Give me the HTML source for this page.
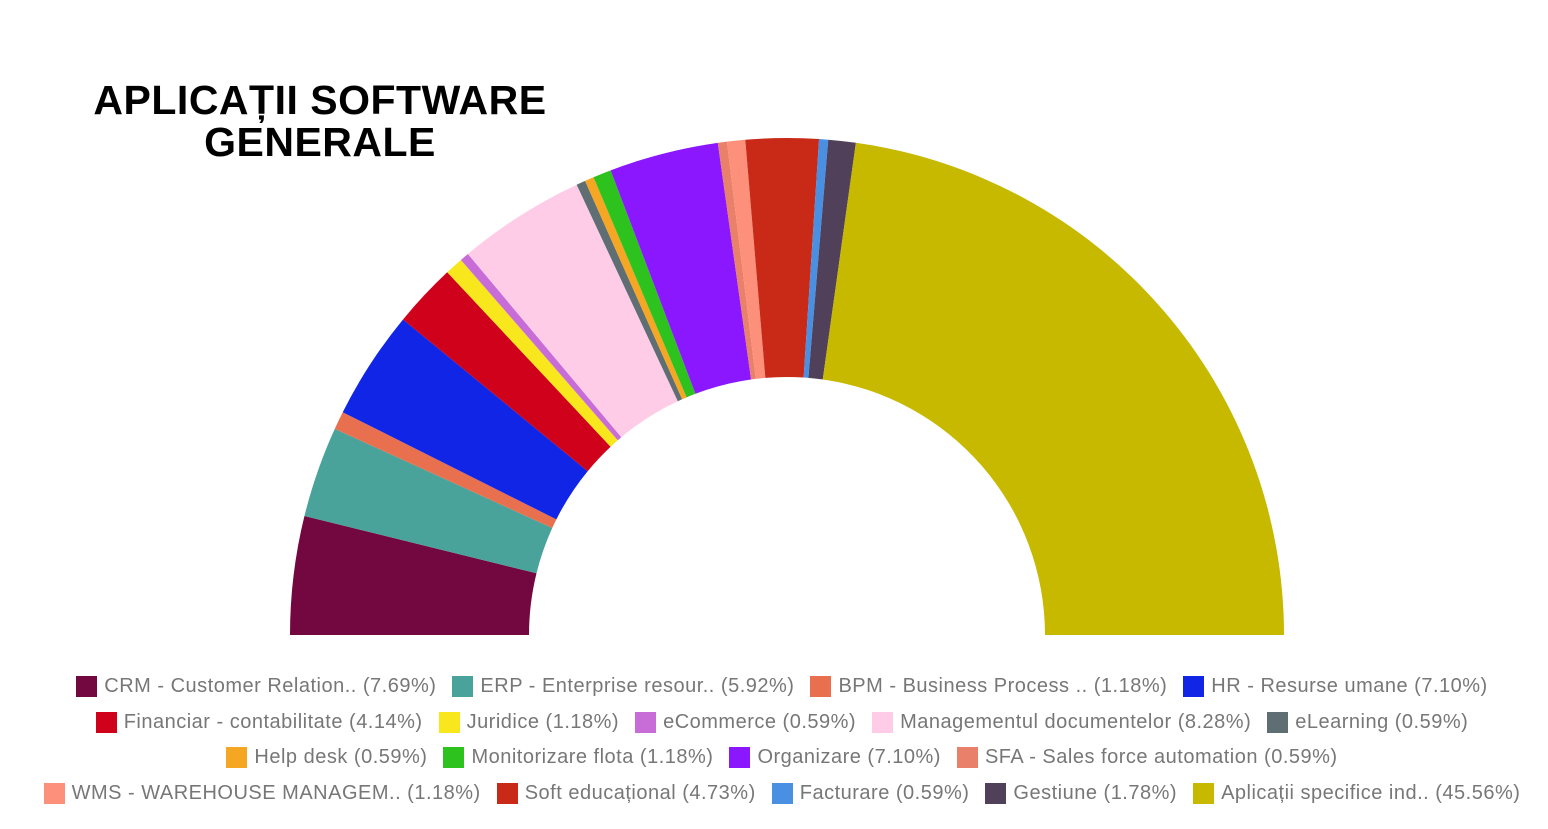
<!DOCTYPE html>
<html><head><meta charset="utf-8"><style>
body{margin:0;width:1548px;height:829px;background:#fff;overflow:hidden;position:relative;font-family:"Liberation Sans",Arial,sans-serif}
#t{position:absolute;left:60px;width:520px;top:79px;text-align:center;font-weight:900;font-size:41px;line-height:42px;color:#000;letter-spacing:0.5px}
.row{position:absolute;left:8px;width:1548px;display:flex;justify-content:center;gap:16px;font-size:20px;letter-spacing:0.5px;color:#777;line-height:22px}
.it{display:flex;align-items:center;white-space:nowrap}
.sw{width:21px;height:21px;margin-right:7px;display:inline-block}
svg{position:absolute;left:0;top:0}
</style></head><body>
<svg width="1548" height="829" id="s"></svg>
<div id="t">APLICAȚII SOFTWARE<br>GENERALE</div>
<div class="row" style="top:675px">
<span class="it"><i class="sw" style="background:#73073f"></i>CRM - Customer Relation.. (7.69%)</span>
<span class="it"><i class="sw" style="background:#4aa39a"></i>ERP - Enterprise resour.. (5.92%)</span>
<span class="it"><i class="sw" style="background:#e8704f"></i>BPM - Business Process .. (1.18%)</span>
<span class="it"><i class="sw" style="background:#1025e6"></i>HR - Resurse umane (7.10%)</span>
</div>
<div class="row" style="top:711px">
<span class="it"><i class="sw" style="background:#d0021b"></i>Financiar - contabilitate (4.14%)</span>
<span class="it"><i class="sw" style="background:#f8e71c"></i>Juridice (1.18%)</span>
<span class="it"><i class="sw" style="background:#c86dd7"></i>eCommerce (0.59%)</span>
<span class="it"><i class="sw" style="background:#ffcce8"></i>Managementul documentelor (8.28%)</span>
<span class="it"><i class="sw" style="background:#5f6e73"></i>eLearning (0.59%)</span>
</div>
<div class="row" style="top:746px">
<span class="it"><i class="sw" style="background:#f5a623"></i>Help desk (0.59%)</span>
<span class="it"><i class="sw" style="background:#2ec21e"></i>Monitorizare flota (1.18%)</span>
<span class="it"><i class="sw" style="background:#8b17ff"></i>Organizare (7.10%)</span>
<span class="it"><i class="sw" style="background:#e9806a"></i>SFA - Sales force automation (0.59%)</span>
</div>
<div class="row" style="top:782px">
<span class="it"><i class="sw" style="background:#fc907a"></i>WMS - WAREHOUSE MANAGEM.. (1.18%)</span>
<span class="it"><i class="sw" style="background:#c92a18"></i>Soft educațional (4.73%)</span>
<span class="it"><i class="sw" style="background:#4a90e2"></i>Facturare (0.59%)</span>
<span class="it"><i class="sw" style="background:#50405a"></i>Gestiune (1.78%)</span>
<span class="it"><i class="sw" style="background:#c7b800"></i>Aplicații specifice ind.. (45.56%)</span>
</div>
<script>
var d=[[7.69,"#73073f"],[5.92,"#4aa39a"],[1.18,"#e8704f"],[7.10,"#1025e6"],[4.14,"#d0021b"],[1.18,"#f8e71c"],[0.59,"#c86dd7"],[8.28,"#ffcce8"],[0.59,"#5f6e73"],[0.59,"#f5a623"],[1.18,"#2ec21e"],[7.10,"#8b17ff"],[0.59,"#e9806a"],[1.18,"#fc907a"],[4.73,"#c92a18"],[0.59,"#4a90e2"],[1.78,"#50405a"],[45.56,"#c7b800"]];
var tot=0;d.forEach(function(a){tot+=a[0]});
var cx=787,cy=635,R=497,r=258,a=Math.PI,h="";
function p(rr,t){return (cx+rr*Math.cos(t)).toFixed(2)+","+(cy-rr*Math.sin(t)).toFixed(2)}
d.forEach(function(x){var b=a-x[0]/tot*Math.PI;
h+='<path fill="'+x[1]+'" d="M'+p(R,a)+'A'+R+','+R+' 0 0 1 '+p(R,b)+'L'+p(r,b)+'A'+r+','+r+' 0 0 0 '+p(r,a)+'Z"/>';a=b;});
document.getElementById("s").innerHTML=h;
</script>
</body></html>
